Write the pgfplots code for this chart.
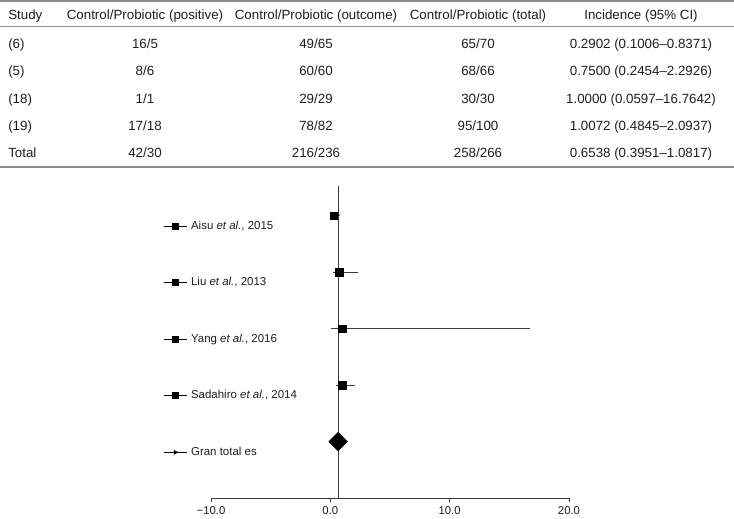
\documentclass[border=0pt]{standalone}
\usepackage{fontspec}
\setmainfont{Liberation Sans}
\usepackage{pgfplots}
\pgfplotsset{compat=1.18}
\definecolor{rulegray}{HTML}{8C8C8C}
\definecolor{axgray}{HTML}{3A3A3A}
\definecolor{txt}{HTML}{1E1E1E}

\begin{document}
\begin{tikzpicture}[x=0.75pt,y=0.75pt]
\useasboundingbox (0,0) rectangle (734,-518);

% ---- table above the plot ----
\draw[rulegray,line width=1.5pt] (0,-1) -- (734,-1);
\draw[rulegray,line width=0.75pt] (0,-26) -- (734,-26);
\draw[rulegray,line width=1.5pt] (0,-167) -- (734,-167);

\begin{scope}[every node/.style={font=\fontsize{10}{12}\selectfont, text=txt, inner sep=0pt}]
  % header
  \node[anchor=base west] at (8,-19.5) {Study};
  \node[anchor=base] at (145,-19.5) {Control/Probiotic (positive)};
  \node[anchor=base] at (316,-19.5) {Control/Probiotic (outcome)};
  \node[anchor=base] at (478,-19.5) {Control/Probiotic (total)};
  \node[anchor=base] at (641,-19.5) {Incidence (95\% CI)};
  % rows
  \node[anchor=base west] at (8,-48.3) {(6)};
  \node[anchor=base] at (145,-48.3) {16/5};
  \node[anchor=base] at (316,-48.3) {49/65};
  \node[anchor=base] at (478,-48.3) {65/70};
  \node[anchor=base] at (641,-48.3) {0.2902 (0.1006–0.8371)};

  \node[anchor=base west] at (8,-75.7) {(5)};
  \node[anchor=base] at (145,-75.7) {8/6};
  \node[anchor=base] at (316,-75.7) {60/60};
  \node[anchor=base] at (478,-75.7) {68/66};
  \node[anchor=base] at (641,-75.7) {0.7500 (0.2454–2.2926)};

  \node[anchor=base west] at (8,-103.1) {(18)};
  \node[anchor=base] at (145,-103.1) {1/1};
  \node[anchor=base] at (316,-103.1) {29/29};
  \node[anchor=base] at (478,-103.1) {30/30};
  \node[anchor=base] at (641,-103.1) {1.0000 (0.0597–16.7642)};

  \node[anchor=base west] at (8,-130.5) {(19)};
  \node[anchor=base] at (145,-130.5) {17/18};
  \node[anchor=base] at (316,-130.5) {78/82};
  \node[anchor=base] at (478,-130.5) {95/100};
  \node[anchor=base] at (641,-130.5) {1.0072 (0.4845–2.0937)};

  \node[anchor=base west] at (8,-157.9) {Total};
  \node[anchor=base] at (145,-157.9) {42/30};
  \node[anchor=base] at (316,-157.9) {216/236};
  \node[anchor=base] at (478,-157.9) {258/266};
  \node[anchor=base] at (641,-157.9) {0.6538 (0.3951–1.0817)};
\end{scope}

% ---- forest plot ----
\begin{axis}[
  at={(158.25pt,-373.5pt)}, anchor=south west,
  scale only axis, width=268.5pt, height=234pt,
  xmin=-10, xmax=20, ymin=0, ymax=5.53,
  axis x line*=bottom, axis y line=none,
  axis line style={axgray, line width=0.75pt, -},
  xtick={-10,0,10,20}, xticklabels={−10.0,0.0,10.0,20.0},
  ytick=\empty,
  tick align=outside, major tick length=3pt,
  tick style={axgray, line width=0.75pt},
  ticklabel style={font=\fontsize{8.5}{10}\selectfont, text=txt},
  clip=false,
  legend style={at={(axis cs:-14,4.923)}, anchor=north west, draw=none, fill=none,
    inner sep=0pt, row sep=33.9pt, font=\fontsize{8.6}{10}\selectfont, text=txt,
    nodes={inner sep=0pt, text height=6.5pt, text depth=2pt},
    /tikz/every odd column/.append style={column sep=3pt}},
  legend cell align=left,
]
% pooled estimate line
\addplot[axgray, line width=0.75pt, forget plot] coordinates {(0.6538,0) (0.6538,5.53)};

% confidence intervals
\addplot[axgray, line width=0.75pt, forget plot] coordinates {(0.1006,5) (0.8371,5)};
\addplot[axgray, line width=0.75pt, forget plot] coordinates {(0.2454,4) (2.2926,4)};
\addplot[axgray, line width=0.75pt, forget plot] coordinates {(0.0597,3) (16.7642,3)};
\addplot[axgray, line width=0.75pt, forget plot] coordinates {(0.4845,2) (2.0937,2)};
\addplot[axgray, line width=0.75pt, forget plot] coordinates {(0.3951,1) (1.0817,1)};

% point estimates
\addplot[only marks, mark=square*, mark size=2.7pt, black, forget plot] coordinates {
  (0.2902,5) (0.7500,4) (1.0000,3) (1.0072,2)};
\addplot[only marks, mark=diamond*, mark size=7pt, mark options={xscale=1.33}, black, forget plot]
  coordinates {(0.6538,1)};

% legend
\addlegendimage{black, line width=0.6pt, mark=square*, mark size=2.3pt}
\addlegendentry{Aisu \textit{et al.}, 2015}
\addlegendimage{black, line width=0.6pt, mark=square*, mark size=2.3pt}
\addlegendentry{Liu \textit{et al.}, 2013}
\addlegendimage{black, line width=0.6pt, mark=square*, mark size=2.3pt}
\addlegendentry{Yang \textit{et al.}, 2016}
\addlegendimage{black, line width=0.6pt, mark=square*, mark size=2.3pt}
\addlegendentry{Sadahiro \textit{et al.}, 2014}
\addlegendimage{black, line width=0.6pt, mark=triangle*, mark size=1.5pt, mark options={rotate=-90}}
\addlegendentry{Gran total es}
\end{axis}
\end{tikzpicture}
\end{document}
